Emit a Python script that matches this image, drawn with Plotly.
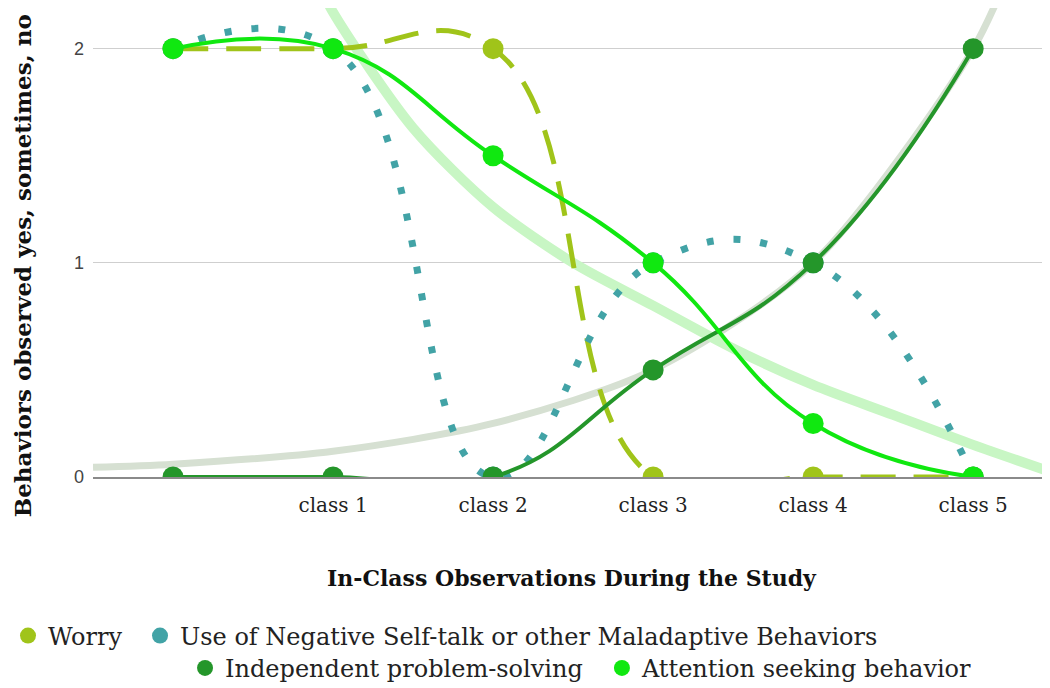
import plotly.graph_objects as go

categories = ["", "class 1", "class 2", "class 3", "class 4", "class 5"]
worry = [2, 2, 2, 0, 0, 0]
negative_self_talk = [2, 2, 0, 1, 1, 0]
independent = [0, 0, 0, 0.5, 1, 2]
attention = [2, 2, 1.5, 1, 0.25, 0]

# trendlines (position index, value)
trend_down_x = [0.9, 1.0, 1.5, 2.0, 2.5, 3.0, 3.5, 4.0, 4.5, 5.0, 5.5]
trend_down_y = [2.32, 2.17, 1.63, 1.26, 1.0, 0.80, 0.60, 0.43, 0.29, 0.15, 0.02]
trend_up_x = [-0.5, 0, 1, 2, 3, 4, 5, 5.3]
trend_up_y = [0.045, 0.06, 0.12, 0.25, 0.5, 1.0, 2.0, 2.5]

xs = list(range(len(categories)))

C_WORRY = "#a0c41a"
C_TEAL = "#42a3a6"
C_IND = "#24962a"
C_ATT = "#10e810"

fig = go.Figure()
fig.add_trace(go.Scatter(x=trend_up_x, y=trend_up_y, mode="lines",
                         line=dict(color="#d6e0d2", width=7, shape="spline", smoothing=0.8),
                         showlegend=False, hoverinfo="skip"))
fig.add_trace(go.Scatter(x=trend_down_x, y=trend_down_y, mode="lines",
                         line=dict(color="#c8f6c4", width=10, shape="spline", smoothing=0.8),
                         showlegend=False, hoverinfo="skip"))

series = [
    ("Worry", worry, C_WORRY, "35px,18px", 5, "legend"),
    ("Use of Negative Self-talk or other Maladaptive Behaviors", negative_self_talk, C_TEAL, "7px,20px", 7, "legend2"),
    ("Independent problem-solving", independent, C_IND, "solid", 4, "legend3"),
    ("Attention seeking behavior", attention, C_ATT, "solid", 4, "legend4"),
]
for name, vals, col, dash, w, lg in series:
    fig.add_trace(go.Scatter(x=xs, y=vals, mode="lines+markers", name=name,
                             line=dict(color=col, width=w, dash=dash, shape="spline", smoothing=1.3),
                             marker=dict(color=col, size=21),
                             showlegend=False))
for name, vals, col, dash, w, lg in series:
    fig.add_trace(go.Scatter(x=[None], y=[None], mode="markers", name=name,
                             marker=dict(color=col, size=18), legend=lg, showlegend=True))

legend_font = dict(family="DejaVu Serif", size=24, color="#222")


def lg(x, y):
    return dict(orientation="h", xref="container", yref="container", x=x, xanchor="left",
                y=y, yanchor="middle", font=legend_font, bgcolor="rgba(0,0,0,0)")


fig.update_layout(
    width=1042, height=680,
    margin=dict(l=85, r=0, t=0, b=211),
    paper_bgcolor="white", plot_bgcolor="white",
    xaxis=dict(range=[-0.5, 5.48], tickvals=xs, ticktext=categories,
               showgrid=False, zeroline=False, showline=True, linecolor="#8a8a8a", linewidth=2,
               ticks="", ticklabelstandoff=9,
               tickfont=dict(family="DejaVu Serif", size=20, color="#222"),
               title=dict(text="<b>In-Class Observations During the Study</b>", standoff=55,
                          font=dict(family="DejaVu Serif", size=22, color="#111"))),
    yaxis=dict(range=[0, 2.19], tickvals=[0, 1, 2], showgrid=True, gridcolor="#cfcfcf", gridwidth=1,
               zeroline=False, ticks="", ticklabelstandoff=8,
               tickfont=dict(family="Liberation Sans", size=18, color="#444")),
    annotations=[dict(text="<b>Behaviors observed yes, sometimes, no</b>", textangle=-90,
                      xref="paper", yref="paper", x=-0.089, y=0.45, showarrow=False,
                      font=dict(family="DejaVu Serif", size=23, color="#111"))],
    legend=lg(-0.003, 0.0765),
    legend2=lg(0.1267, 0.0765),
    legend3=lg(0.1699, 0.029),
    legend4=lg(0.570, 0.029),
)
fig.write_html("out.html")
